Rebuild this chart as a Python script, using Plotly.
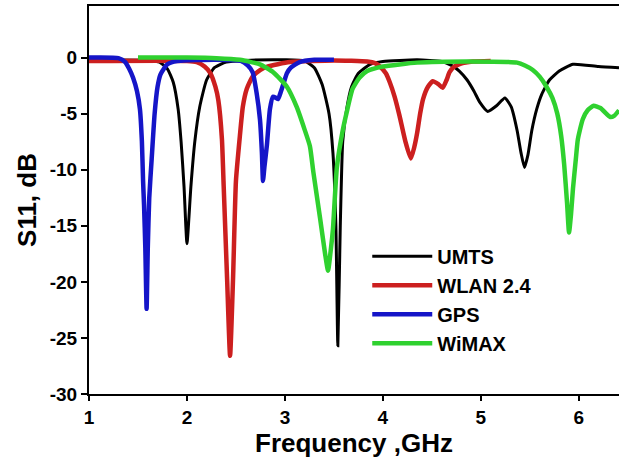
import plotly.graph_objects as go

# UMTS (black)
umts_f = [1.0, 1.6, 1.72, 1.80, 1.86, 1.91, 1.94, 1.97, 2.0, 2.04, 2.08, 2.13, 2.2, 2.28, 2.4, 2.6,
          3.0, 3.2, 3.3, 3.38, 3.45, 3.49, 3.52, 3.54, 3.565, 3.59, 3.63, 3.68, 3.75, 3.87, 4.0, 4.35,
          4.6, 4.7, 4.78, 4.86, 4.93, 4.99, 5.07, 5.16, 5.245, 5.31, 5.37, 5.41, 5.445, 5.48, 5.52,
          5.57, 5.62, 5.70, 5.8, 5.94, 6.2, 6.41]
umts_s = [-0.2, -0.25, -0.4, -1.0, -2.2, -4.6, -7.5, -11.5, -16.6, -11.5, -7.5, -4.4, -2.0, -0.9, -0.4, -0.25,
          -0.2, -0.3, -0.9, -2.4, -5.0, -8.5, -15.0, -25.7, -15.0, -7.5, -4.6, -2.6, -1.4, -0.6, -0.35, -0.2,
          -0.35, -0.7, -1.2, -2.0, -3.0, -4.0, -4.8, -4.3, -3.6, -4.4, -6.5, -8.5, -9.8, -8.7, -6.5,
          -4.6, -3.3, -2.0, -1.2, -0.6, -0.8, -0.9]

# WLAN 2.4 (red)
wlan_f = [1.0, 2.0, 2.1, 2.18, 2.24, 2.29, 2.32, 2.357, 2.375, 2.41, 2.44, 2.47, 2.50, 2.54, 2.57, 2.61,
          2.67, 2.75, 2.82, 3.05, 3.5, 3.84, 3.92, 3.97, 4.03, 4.07, 4.12, 4.17, 4.23, 4.285, 4.32, 4.35,
          4.38, 4.41, 4.46, 4.51, 4.57, 4.61, 4.65, 4.68, 4.73, 4.79, 4.92, 5.1]
wlan_s = [-0.3, -0.3, -0.4, -0.8, -1.4, -2.6, -3.8, -7.3, -11.5, -19.8, -26.6, -19.8, -11.0, -7.0, -4.4, -2.8,
          -1.7, -1.1, -0.8, -0.4, -0.25, -0.35, -0.5, -0.8, -1.4, -2.2, -3.5, -5.2, -7.5, -9.0, -8.0, -6.7,
          -5.0, -3.7, -2.6, -2.1, -2.4, -2.7, -2.0, -1.3, -0.8, -0.55, -0.35, -0.3]

# GPS (blue)
gps_f = [1.0, 1.3, 1.37, 1.41, 1.45, 1.49, 1.52, 1.54, 1.552, 1.562, 1.575, 1.588, 1.60, 1.615, 1.64,
         1.67, 1.70, 1.73, 1.8, 1.9, 2.3, 2.55, 2.62, 2.67, 2.71, 2.745, 2.765, 2.776, 2.79, 2.816,
         2.847, 2.878, 2.91, 2.93, 2.96, 2.99, 3.02, 3.06, 3.15, 3.3, 3.5]
gps_s = [0.0, -0.05, -0.4, -1.0, -1.8, -3.0, -4.6, -7.5, -11.0, -13.2, -17.0, -22.4, -17.0, -12.5, -9.0,
         -5.0, -2.6, -1.5, -0.6, -0.3, -0.2, -0.3, -0.7, -1.3, -3.1, -5.5, -8.5, -11.0, -9.8, -7.8,
         -4.6, -3.5, -3.6, -3.7, -3.0, -2.2, -1.4, -0.9, -0.4, -0.2, -0.2]

# WiMAX (green)
wimax_f = [1.5, 2.0, 2.3, 2.54, 2.745, 2.88, 3.02, 3.12, 3.20, 3.255, 3.29, 3.36, 3.41, 3.44, 3.47, 3.49,
           3.53, 3.59, 3.63, 3.69, 3.76, 3.84, 4.0, 4.35, 4.86, 5.37, 5.45, 5.53, 5.6, 5.67, 5.73, 5.78,
           5.82, 5.85, 5.88, 5.90, 5.92, 5.94, 5.97, 5.99, 6.04, 6.09, 6.15, 6.22, 6.28, 6.32, 6.36, 6.41]
wimax_s = [0.0, 0.0, -0.05, -0.2, -0.6, -1.3, -2.6, -4.4, -6.4, -7.9, -10.2, -14.4, -17.5, -19.0, -17.0, -15.3,
           -9.8, -6.5, -4.9, -2.8, -1.8, -1.2, -0.8, -0.45, -0.35, -0.45, -0.7, -1.1, -1.7, -2.6, -3.6, -5.0,
           -7.0, -9.5, -13.0, -15.6, -14.0, -11.7, -9.0, -7.3, -5.5, -4.7, -4.3, -4.5, -5.0, -5.3, -5.2, -4.7]

x_ticks = [1, 2, 3, 4, 5, 6]
y_ticks = [-30, -25, -20, -15, -10, -5, 0]

FONT = "Liberation Sans, Arial, sans-serif"

series = [
    ("UMTS", umts_f, umts_s, "#000000", 3),
    ("WLAN 2.4", wlan_f, wlan_s, "#cc1f1f", 4.5),
    ("GPS", gps_f, gps_s, "#1515c8", 4.5),
    ("WiMAX", wimax_f, wimax_s, "#2fd12f", 4.5),
]

fig = go.Figure()
for name, xs, ys, col, w in series:
    fig.add_trace(go.Scatter(x=xs, y=ys, mode="lines", name=name,
                             line=dict(color=col, width=w, shape="spline", smoothing=0.5)))

fig.update_layout(
    width=619, height=463,
    margin=dict(l=89, r=0, t=6, b=69, autoexpand=False),
    plot_bgcolor="white", paper_bgcolor="white",
    font=dict(family=FONT, color="black"),
    showlegend=True,
    legend=dict(x=0.525, y=0.405, xanchor="left", yanchor="top",
                bgcolor="rgba(0,0,0,0)", borderwidth=0,
                font=dict(family=FONT, size=20, weight="bold", color="black"),
                itemwidth=60, tracegroupgap=0),
)
fig.update_xaxes(
    automargin=False,
    range=[1, 6.41], tickvals=x_ticks, ticktext=[str(v) for v in x_ticks],
    showgrid=False, zeroline=False, showline=True, linecolor="black", linewidth=2,
    mirror=True, ticks="outside", ticklen=5, tickwidth=2, tickcolor="black",
    tickfont=dict(family=FONT, size=19, weight="bold", color="black"),
    title=dict(text="Frequency ,GHz", font=dict(family=FONT, size=26, weight="bold", color="black"),
               standoff=6),
)
fig.update_yaxes(
    automargin=False,
    range=[-30, 4.6], tickvals=y_ticks, ticktext=[str(v) for v in y_ticks],
    showgrid=False, zeroline=False, showline=True, linecolor="black", linewidth=2,
    mirror=False, ticks="outside", ticklen=6, tickwidth=2, tickcolor="black",
    tickfont=dict(family=FONT, size=19, weight="bold", color="black"),
    title=dict(text="S11, dB", font=dict(family=FONT, size=26, weight="bold", color="black"),
               standoff=6),
)

fig.write_html("out.html", config={"displayModeBar": False},
               post_script="document.body.style.margin='0';")
